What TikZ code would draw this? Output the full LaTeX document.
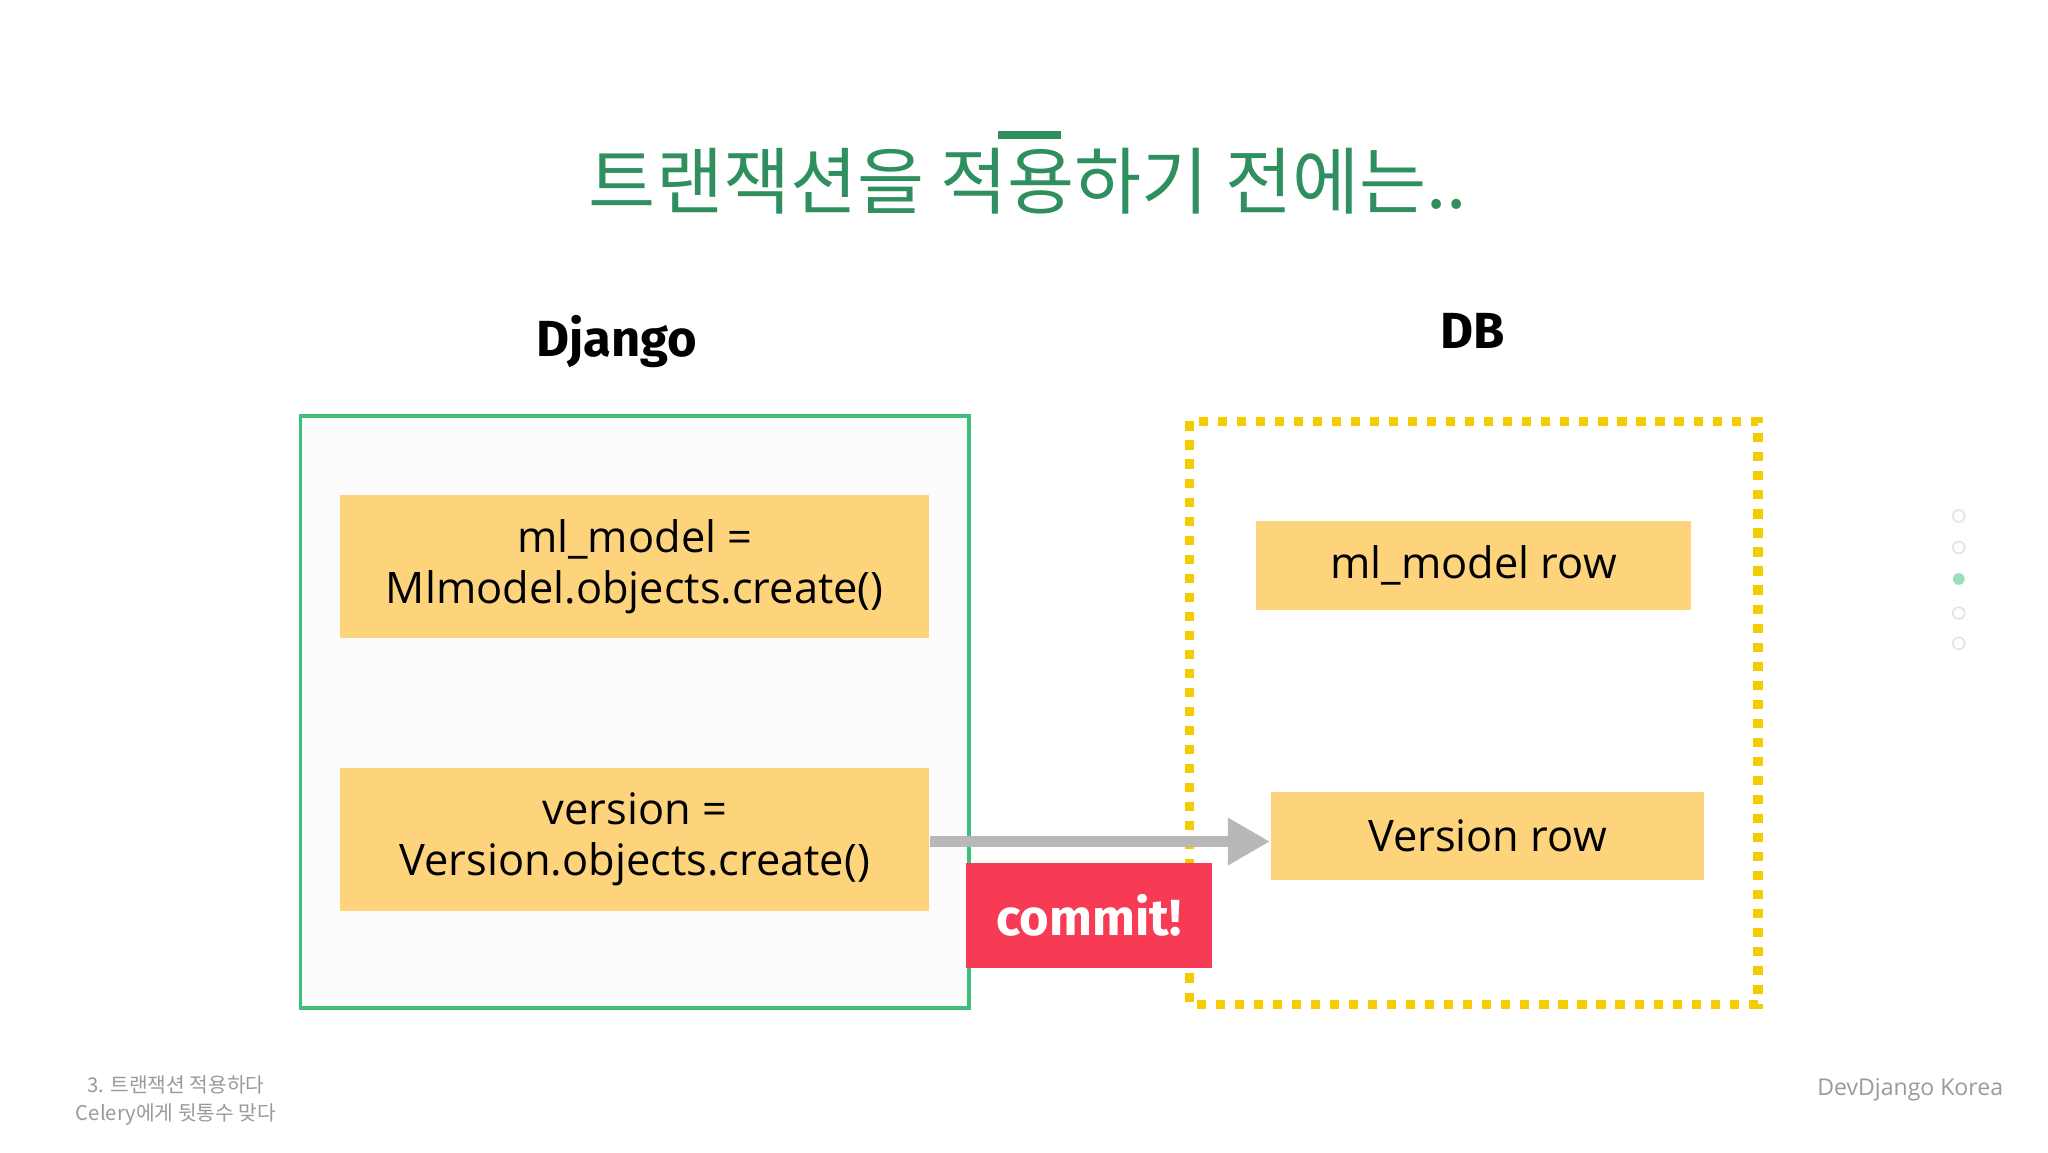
\documentclass[tikz,border=0pt]{standalone}
\usepackage{fontspec}
\usetikzlibrary{arrows.meta}
\setmainfont{Open Sans}
\newfontfamily\cjk{Noto Sans CJK KR}
\newfontfamily\hand{Fira Sans}
\definecolor{tgreen}{HTML}{2F8F5F}
\definecolor{bgreen}{HTML}{3CC07A}
\definecolor{ybox}{HTML}{FDD37C}
\definecolor{ydash}{HTML}{F5CC00}
\definecolor{cred}{HTML}{F73B55}
\definecolor{fgray}{HTML}{9A9A9A}
\tikzset{
  yb/.style={fill=ybox,draw=none,inner sep=0pt,align=center,font=\fontsize{9.4}{11}\selectfont},
  foot/.style={text=fgray,font=\cjk\fontsize{4.4}{6}\selectfont,align=center},
  dot/.style={circle,draw=black!10,fill=white,minimum size=0.09cm,inner sep=0pt}
}
\begin{document}
\begin{tikzpicture}[x=1cm,y=-1cm]
\useasboundingbox[fill=white] (0,0) rectangle (15.6,8.775);
\node[text=tgreen,font=\cjk\fontsize{15.8}{19}\selectfont] (title) at (7.83,1.38) {트랜잭션을 적용하기 전에는..};
\fill[tgreen] (7.60,1.00) rectangle (8.08,1.06);
\node[font=\hand\bfseries\fontsize{11}{13}\selectfont] (dj) at (4.70,2.60) {Django};
\node[font=\hand\bfseries\fontsize{11}{13}\selectfont] (db) at (11.22,2.52) {DB};
\draw[bgreen,line width=0.8pt,fill=black!1] (2.29,3.17) rectangle (7.38,7.68);
\node[yb,minimum width=4.49cm,minimum height=1.09cm] (m) at (4.835,4.315) {ml\_model =\\Mlmodel.objects.create()};
\node[yb,minimum width=4.49cm,minimum height=1.09cm] (v) at (4.835,6.395) {version =\\Version.objects.create()};
\draw[ydash,line width=0.07cm,dash pattern=on 0.07cm off 0.075cm] (9.06,3.21) rectangle (13.39,7.65);
\node[yb,minimum width=3.31cm,minimum height=0.68cm] (mr) at (11.225,4.31) {ml\_model row};
\node[yb,minimum width=3.30cm,minimum height=0.67cm] (vr) at (11.33,6.365) {Version row};
\draw[black!28,line width=0.08cm,-{Triangle[length=0.32cm,width=0.34cm]}] (v.east|-0,6.41) -- (vr.west|-0,6.41);
\node[fill=cred,text=white,minimum width=1.87cm,minimum height=0.80cm,inner sep=0pt,font=\hand\bfseries\fontsize{11}{13}\selectfont] (c) at (8.295,6.97) {commit!};
\node[foot] (f1) at (1.34,8.38) {3. 트랜잭션 적용하다\\Celery에게 뒷통수 맞다};
\node[text=fgray,font=\fontsize{5}{6}\selectfont] (f2) at (14.55,8.30) {DevDjango Korea};
\node[dot] (d1) at (14.92,3.93) {};
\node[dot] (d2) at (14.92,4.17) {};
\node[dot,fill=bgreen!50,draw=none] (d3) at (14.92,4.41) {};
\node[dot] (d4) at (14.92,4.67) {};
\node[dot] (d5) at (14.92,4.90) {};
\end{tikzpicture}
\end{document}
